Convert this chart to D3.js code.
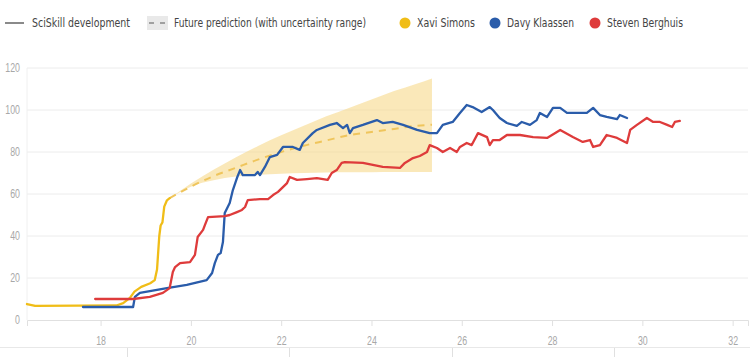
<!DOCTYPE html>
<html><head><meta charset="utf-8">
<script src="https://cdn.jsdelivr.net/npm/d3@7"></script>
<style>
html,body{margin:0;padding:0;background:#fff;}
svg{display:block;font-family:"DejaVu Sans Condensed","Roboto",sans-serif;}
</style></head>
<body>
<svg id="chart" width="750" height="357"></svg>
<script>
// ---- data ----
const xTicks = [18, 20, 22, 24, 26, 28, 30, 32];
const yTicks = [0, 20, 40, 60, 80, 100, 120];
const lowerTicks = [18.58, 22.17, 25.78, 29.37];

const xavi = [[16.37,7.6],[16.55,6.7],[17.5,6.8],[18.35,6.9],[18.5,8],[18.65,10.5],[18.75,13.5],[18.9,15.8],[19.1,17.5],[19.2,19],[19.25,24],[19.3,40],[19.33,45],[19.37,46.5],[19.41,54],[19.47,57],[19.53,58]];

const davy = [[17.61,6.2],[18.72,6.2],[18.76,11],[18.87,12.9],[19.47,15.2],[19.91,16.7],[20.35,19],[20.47,22.4],[20.53,27.1],[20.6,31],[20.66,31.9],[20.71,37.1],[20.75,51],[20.86,55.7],[20.93,61.9],[21.02,67.6],[21.09,71.4],[21.15,69],[21.42,69],[21.48,70.5],[21.53,69],[21.64,72.9],[21.75,77.6],[21.91,78.6],[22.04,82.4],[22.26,82.4],[22.41,81],[22.48,84.3],[22.7,89],[22.79,90.5],[23.08,92.9],[23.23,93.8],[23.37,91.4],[23.46,92.9],[23.52,89],[23.59,91.4],[23.81,92.9],[24.12,95.2],[24.25,93.8],[24.47,94.3],[24.7,92.9],[25.01,90.5],[25.29,89],[25.45,89],[25.58,92.9],[25.8,94.3],[25.96,98.6],[26.11,102.4],[26.24,101.4],[26.44,99],[26.62,101.4],[26.69,100],[26.84,96.2],[27.0,93.8],[27.22,92.4],[27.33,94.3],[27.51,92.9],[27.66,95.2],[27.73,98.6],[27.89,96.7],[28.02,101],[28.18,101],[28.33,98.6],[28.77,98.6],[28.91,101],[29.06,97.6],[29.21,96.7],[29.44,95.7],[29.5,97.6],[29.66,96.2]];

const steven = [[17.88,10],[18.72,10],[19.09,11],[19.38,12.9],[19.53,15.2],[19.6,22.9],[19.65,25.2],[19.76,27.1],[19.98,27.6],[20.09,31],[20.15,39.5],[20.27,42.9],[20.31,45.2],[20.38,49],[20.75,49.5],[20.86,50],[21.02,51.4],[21.13,52.4],[21.2,53.8],[21.26,57.1],[21.53,57.6],[21.71,57.6],[21.82,59.5],[21.93,61],[22.13,65.2],[22.19,68.1],[22.35,66.7],[22.57,67.1],[22.79,67.6],[23.03,66.7],[23.12,70],[23.23,71.4],[23.34,74.8],[23.41,75.2],[23.81,74.8],[24.25,72.9],[24.63,72.4],[24.74,74.8],[24.92,77.1],[25.07,78.1],[25.23,80],[25.29,83.3],[25.45,81.9],[25.58,80],[25.74,81.9],[25.89,80],[25.96,82.4],[26.11,84.3],[26.22,83.3],[26.36,89],[26.56,87.1],[26.62,83.3],[26.69,85.7],[26.84,85.7],[27.0,88.1],[27.29,88.1],[27.58,87.1],[27.89,86.7],[28.18,90.5],[28.46,87.1],[28.68,84.8],[28.84,85.7],[28.91,82.4],[29.06,83.3],[29.21,88.1],[29.44,86.7],[29.66,84.3],[29.73,90.5],[29.88,92.9],[30.1,96.2],[30.24,94.3],[30.39,94.3],[30.55,92.9],[30.66,91.9],[30.72,94.3],[30.83,94.8]];

const predYears = [19.53, 20, 20.5, 21, 21.5, 22, 22.5, 23, 23.5, 24, 24.5, 25, 25.34];
const predMean  = [58, 63.5, 68.5, 72.5, 76.5, 80, 83, 85.5, 88, 89.5, 91, 92.5, 93];
const predUpper = [58, 65, 71.5, 77.5, 83, 88, 92.5, 97, 101, 105, 109, 112.5, 115];
const predLower = [58, 63.5, 66.5, 68.3, 69.2, 69.7, 70, 70.2, 70.3, 70.4, 70.5, 70.5, 70.5];

const players = [
  {name: "Xavi Simons", color: "#f0bd17", data: xavi},
  {name: "Davy Klaassen", color: "#2a5caa", data: davy},
  {name: "Steven Berghuis", color: "#de3b3b", data: steven}
];

// ---- chart ----
const svg = d3.select("#chart");
const x = d3.scaleLinear().domain([16.37, 32.34]).range([27, 748]);
const y = d3.scaleLinear().domain([0, 120]).range([320, 68]);

// fit condensed-looking text to a given width
function fit(sel, w) {
  sel.attr("textLength", w).attr("lengthAdjust", "spacingAndGlyphs");
}

// gridlines
svg.append("g").selectAll("line").data(yTicks.filter(d => d > 0)).join("line")
  .attr("x1", x.range()[0]).attr("x2", x.range()[1])
  .attr("y1", d => y(d)).attr("y2", d => y(d))
  .attr("stroke", "#ececec").attr("stroke-width", 1);

// y axis line
svg.append("line").attr("x1", x.range()[0]).attr("x2", x.range()[0])
  .attr("y1", y(120)).attr("y2", y(0)).attr("stroke", "#f0f0f0");

// x axis
const xAxis = d3.axisBottom(x).tickValues(xTicks).tickSize(6).tickPadding(10).tickFormat(d3.format("d"));
const gx = svg.append("g").attr("transform", `translate(0,${y(0)})`).call(xAxis);
gx.select(".domain").attr("stroke", "#e0e0e0");
gx.selectAll(".tick line").attr("stroke", "#e0e0e0");
gx.selectAll("text").attr("fill", "#a8a8a8").attr("font-size", 12).attr("font-family", "inherit")
  .each(function(d) { fit(d3.select(this), String(d).length * 4.9); });

// y axis labels
const yAxis = d3.axisLeft(y).tickValues(yTicks).tickSize(0).tickPadding(7);
const gy = svg.append("g").attr("transform", `translate(${x.range()[0]},0)`).call(yAxis);
gy.select(".domain").remove();
gy.selectAll("text").attr("fill", "#a8a8a8").attr("font-size", 12).attr("font-family", "inherit")
  .each(function(d) { fit(d3.select(this), String(d).length * 4.9); });

// lower strip (cropped secondary axis)
svg.append("line").attr("x1", 0).attr("x2", 750).attr("y1", 347.5).attr("y2", 347.5).attr("stroke", "#e8e8e8");
svg.append("g").selectAll("line").data(lowerTicks).join("line")
  .attr("x1", d => Math.round(x(d)) + 0.5).attr("x2", d => Math.round(x(d)) + 0.5)
  .attr("y1", 348).attr("y2", 357).attr("stroke", "#e0e0e0");

// prediction band
const pred = predYears.map((yr, i) => ({yr, m: predMean[i], u: predUpper[i], l: predLower[i]}));
svg.append("path").datum(pred)
  .attr("d", d3.area().x(d => x(d.yr)).y0(d => y(d.l)).y1(d => y(d.u)).curve(d3.curveMonotoneX))
  .attr("fill", "#f7d98a").attr("fill-opacity", 0.6);
svg.append("path").datum(pred)
  .attr("d", d3.line().x(d => x(d.yr)).y(d => y(d.m)).curve(d3.curveMonotoneX))
  .attr("fill", "none").attr("stroke", "#efc55c").attr("stroke-width", 2).attr("stroke-dasharray", "7,6");

// player lines
const line = d3.line().x(d => x(d[0])).y(d => y(d[1]));
svg.append("g").selectAll("path").data(players).join("path")
  .attr("d", d => line(d.data))
  .attr("fill", "none").attr("stroke", d => d.color).attr("stroke-width", 2.3)
  .attr("stroke-linejoin", "round").attr("stroke-linecap", "round");

// legend
const lg = svg.append("g").attr("font-size", 12).attr("fill", "#444");
const ly = 23;
lg.append("line").attr("x1", 5).attr("x2", 24).attr("y1", ly).attr("y2", ly).attr("stroke", "#8a8a8a").attr("stroke-width", 2);
lg.append("text").attr("x", 32).attr("y", ly).attr("dy", "0.35em").text("SciSkill development").call(fit, 98);
lg.append("rect").attr("x", 147).attr("y", ly - 7).attr("width", 21).attr("height", 14).attr("fill", "#e9e9e9");
lg.append("line").attr("x1", 149).attr("x2", 167).attr("y1", ly).attr("y2", ly).attr("stroke", "#a0a0a0").attr("stroke-width", 2).attr("stroke-dasharray", "5,6");
lg.append("text").attr("x", 174).attr("y", ly).attr("dy", "0.35em").text("Future prediction (with uncertainty range)").call(fit, 192);
const legendX = [405, 495, 595];
const legendW = [58, 67, 76];
players.forEach((p, i) => {
  lg.append("circle").attr("cx", legendX[i]).attr("cy", ly).attr("r", 5.5).attr("fill", p.color);
  lg.append("text").attr("x", legendX[i] + 12).attr("y", ly).attr("dy", "0.35em").text(p.name).call(fit, legendW[i]);
});
</script>
</body></html>
